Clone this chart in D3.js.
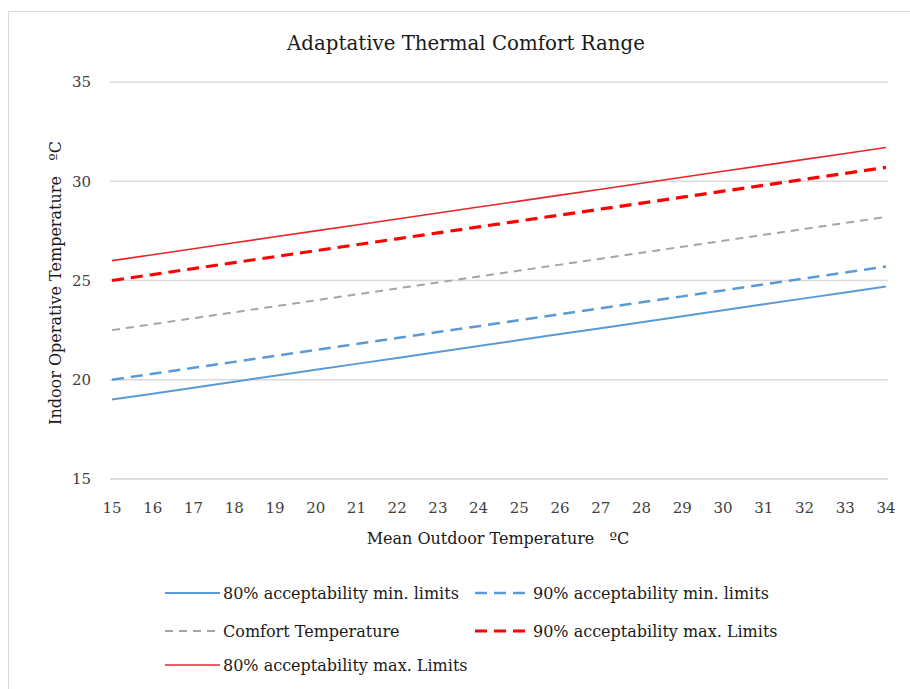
<!DOCTYPE html>
<html><head><meta charset="utf-8">
<script src="https://cdn.jsdelivr.net/npm/d3@7"></script>
<style>body{margin:0;background:#fff;}svg{display:block;}</style>
</head><body>
<svg id="c" width="910" height="689"></svg>
<script>
const categories = [15,16,17,18,19,20,21,22,23,24,25,26,27,28,29,30,31,32,33,34];
const min80 = [19.0,19.3,19.6,19.9,20.2,20.5,20.8,21.1,21.4,21.7,22.0,22.3,22.6,22.9,23.2,23.5,23.8,24.1,24.4,24.7];
const min90 = [20.0,20.3,20.6,20.9,21.2,21.5,21.8,22.1,22.4,22.7,23.0,23.3,23.6,23.9,24.2,24.5,24.8,25.1,25.4,25.7];
const comfort = [22.5,22.8,23.1,23.4,23.7,24.0,24.3,24.6,24.9,25.2,25.5,25.8,26.1,26.4,26.7,27.0,27.3,27.6,27.9,28.2];
const max90 = [25.0,25.3,25.6,25.9,26.2,26.5,26.8,27.1,27.4,27.7,28.0,28.3,28.6,28.9,29.2,29.5,29.8,30.1,30.4,30.7];
const max80 = [26.0,26.3,26.6,26.9,27.2,27.5,27.8,28.1,28.4,28.7,29.0,29.3,29.6,29.9,30.2,30.5,30.8,31.1,31.4,31.7];
const yTicks = [15,20,25,30,35];
const seriesNames = ["80% acceptability min. limits","90% acceptability min. limits","Comfort Temperature","90% acceptability max. Limits","80% acceptability max. Limits"];
const title = "Adaptative Thermal Comfort Range";
const xTitle = "Mean Outdoor Temperature\u00a0\u00a0\u00a0ºC";
const yTitle = "Indoor Operative Temperature\u00a0\u00a0\u00a0ºC";

const styles = [
  {color:"#5B9BD5", width:2, dash:null},
  {color:"#5B9BD5", width:2.5, dash:"12,7"},
  {color:"#A5A5A5", width:2, dash:"8,6"},
  {color:"#FF0000", width:3.2, dash:"12,7"},
  {color:"#E8262A", width:1.6, dash:null}
];
const seriesData = [min80, min90, comfort, max90, max80];
const font = "'DejaVu Serif', 'Liberation Serif', serif";

const svg = d3.select("#c");
svg.append("rect").attr("x",8.5).attr("y",11.5).attr("width",910).attr("height",690)
  .attr("fill","#fff").attr("stroke","#D9D9D9").attr("stroke-width",1);

const x = d3.scalePoint().domain(categories).range([112,886]);
const y = d3.scaleLinear().domain([15,35]).range([479,82]);

// gridlines
svg.append("g").selectAll("line").data(yTicks.filter(d=>d>15)).join("line")
  .attr("x1",110).attr("x2",888).attr("y1",d=>y(d)).attr("y2",d=>y(d))
  .attr("stroke","#D9D9D9").attr("stroke-width",1.3);
// x axis line
svg.append("line").attr("x1",110).attr("x2",888).attr("y1",y(15)).attr("y2",y(15))
  .attr("stroke","#D0D0D0").attr("stroke-width",1.3);

// y tick labels
svg.append("g").selectAll("text").data(yTicks).join("text")
  .attr("x",91).attr("y",d=>y(d)).attr("dy","0.35em").attr("text-anchor","end")
  .attr("font-family",font).attr("font-size",15).attr("fill","#404040").text(d=>d);
// x tick labels
svg.append("g").selectAll("text").data(categories).join("text")
  .attr("x",d=>x(d)).attr("y",513).attr("text-anchor","middle")
  .attr("font-family",font).attr("font-size",15).attr("fill","#404040").text(d=>d);

// lines
const line = d3.line().x((d,i)=>x(categories[i])).y(d=>y(d));
seriesData.forEach((s,i)=>{
  svg.append("path").datum(s).attr("d",line).attr("fill","none")
    .attr("stroke",styles[i].color).attr("stroke-width",styles[i].width)
    .attr("stroke-dasharray",styles[i].dash);
});

// titles
svg.append("text").attr("x",466).attr("y",50).attr("text-anchor","middle")
  .attr("font-family",font).attr("font-size",19.8).attr("fill","#1a1a1a").text(title);
svg.append("text").attr("x",498).attr("y",544).attr("text-anchor","middle")
  .attr("font-family",font).attr("font-size",16).attr("fill","#1a1a1a").text(xTitle);
svg.append("text").attr("transform","translate(61,283) rotate(-90)").attr("text-anchor","middle")
  .attr("font-family",font).attr("font-size",16).attr("fill","#1a1a1a").text(yTitle);

// legend
const legPos = [[165,593],[475,593],[165,631],[475,631],[165,665]];
seriesNames.forEach((n,i)=>{
  const [lx,ly] = legPos[i];
  svg.append("line").attr("x1",lx).attr("x2",lx+55).attr("y1",ly).attr("y2",ly)
    .attr("stroke",styles[i].color).attr("stroke-width",styles[i].width)
    .attr("stroke-dasharray",styles[i].dash);
  svg.append("text").attr("x",lx+58).attr("y",ly).attr("dy","0.35em")
    .attr("font-family",font).attr("font-size",16).attr("fill","#1a1a1a").text(n);
});
</script>
</body></html>
